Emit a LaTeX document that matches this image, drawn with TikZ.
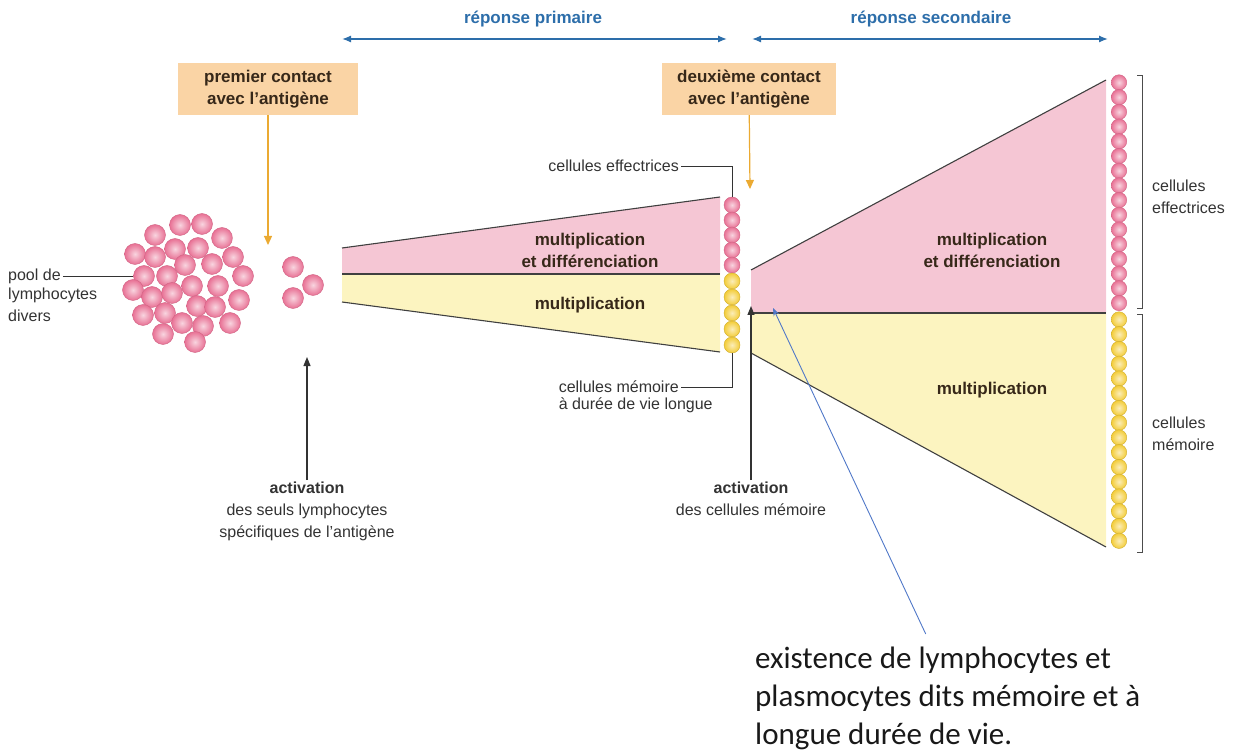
\documentclass[tikz,border=0pt]{standalone}
\usepackage{fontspec}
\setmainfont{Liberation Sans}
\newfontfamily\notefont{Carlito}
\usetikzlibrary{arrows.meta, positioning, calc, shadings}
\definecolor{RepBlue}{RGB}{45,110,170}
\definecolor{BoxOrange}{RGB}{250,212,165}
\definecolor{ArrowOrange}{RGB}{235,170,50}
\definecolor{FunPink}{RGB}{245,198,212}
\definecolor{FunYellow}{RGB}{252,244,192}
\definecolor{CellPink}{RGB}{232,112,148}
\definecolor{CellYellow}{RGB}{243,204,55}
\definecolor{TextBrown}{RGB}{55,40,25}
\definecolor{NoteBlue}{RGB}{80,120,200}

\tikzset{
  lbl/.style={font=\fontsize{16}{22}\selectfont, text=black!80, inner sep=2pt},
  boldlbl/.style={font=\fontsize{17}{22}\selectfont\bfseries, text=TextBrown, align=center},
  contact/.style={fill=BoxOrange, font=\fontsize{17}{22}\selectfont\bfseries, text=TextBrown, align=center, minimum height=52pt},
  pinkcell/.style={circle, inner sep=0pt, minimum size=#1, draw=CellPink!90!black, line width=0.4pt, shading=radial, inner color=CellPink!30!white, outer color=CellPink},
  yellowcell/.style={circle, inner sep=0pt, minimum size=#1, draw=CellYellow!85!black, line width=0.4pt, shading=radial, inner color=CellYellow!35!white, outer color=CellYellow},
  funline/.style={black!75, line width=1.1pt}
}

\begin{document}
\begin{tikzpicture}[x=1pt, y=-1pt]
\useasboundingbox (0,0) rectangle (1245,751);

\coordinate (rp1l) at (342,39);
\coordinate (rp1r) at (727,39);
\coordinate (rp2l) at (752,39);
\coordinate (rp2r) at (1108,39);
\draw[RepBlue, line width=1.3pt, {Latex[length=9pt,width=7pt]}-{Latex[length=9pt,width=7pt]}] (rp1l) -- (rp1r);
\draw[RepBlue, line width=1.3pt, {Latex[length=9pt,width=7pt]}-{Latex[length=9pt,width=7pt]}] (rp2l) -- (rp2r);
\node[boldlbl, text=RepBlue] at (533,19) (rep1) {réponse primaire};
\node[boldlbl, text=RepBlue] at (931,19) (rep2) {réponse secondaire};

\node[contact, minimum width=180pt] at (268,89) (contact1) {premier contact\\avec l’antigène};
\node[contact, minimum width=174pt] at (749,89) (contact2) {deuxième contact\\avec l’antigène};
\coordinate (tip1) at (268,245);
\coordinate (tip2) at (750,189);
\draw[ArrowOrange, line width=1.2pt, -{Triangle[length=9pt,width=8pt]}] (contact1) -- (tip1);
\draw[ArrowOrange, line width=1.2pt, -{Triangle[length=9pt,width=8pt]}] (contact2) -- (tip2);

\fill[FunPink] (342,248) -- (720,197) -- (720,274) -- (342,274) -- cycle;
\fill[FunYellow] (342,274) -- (720,274) -- (720,352) -- (342,302) -- cycle;
\draw[funline] (342,248) -- (720,197);
\draw[funline] (342,274) -- (720,274);
\draw[funline] (342,302) -- (720,352);
\node[boldlbl] at (590,250) (multdiff1) {multiplication\\et différenciation};
\node[boldlbl] at (590,305) (mult1) {multiplication};

\fill[FunPink] (751,270) -- (1106,80) -- (1106,313) -- (751,313) -- cycle;
\fill[FunYellow] (751,313) -- (1106,313) -- (1106,547) -- (751,353) -- cycle;
\draw[funline] (751,270) -- (1106,80);
\draw[funline] (751,313) -- (1106,313);
\draw[funline] (751,353) -- (1106,547);
\node[boldlbl] at (992,250) (multdiff2) {multiplication\\et différenciation};
\node[boldlbl] at (992,390) (mult2) {multiplication};

\foreach \x/\y [count=\i] in {180/225,202/224,155/235,222/238,135/254,155/257,175/249,198/248,233/257,185/265,212/264,144/276,167/276,243/276,192/286,218/286,133/290,152/297,172/293,239/300,197/306,215/307,143/315,165/313,182/323,203/326,230/323,163/334,195/342}
  \node[pinkcell=21pt] (pool\i) at (\x,\y) {};
\foreach \x/\y [count=\i] in {293/267,313/285,293/298}
  \node[pinkcell=21pt] (sel\i) at (\x,\y) {};

\node[lbl, anchor=west] at (6,276) (poollbl) {pool de};
\node[lbl, anchor=north west, align=left] at (poollbl.south west) (poollbl2) {lymphocytes\\divers};
\draw[black!80, line width=0.9pt] (poollbl.east) -- (pool12.west);

\foreach \i in {0,...,4}
  \node[pinkcell=16pt] (pc\i) at (732,205+15*\i) {};
\foreach \i in {0,...,4}
  \node[yellowcell=16pt] (yc\i) at (732,281+16*\i) {};

\node[lbl, anchor=east] at (681,166) (efflbl) {cellules effectrices};
\draw[black!80, line width=0.9pt] (efflbl.east) -| (pc0.north);
\node[lbl, anchor=east] at (681,387) (memlbl) {cellules mémoire};
\node[lbl, anchor=north west] at (memlbl.south west) (memlbl2) {à durée de vie longue};
\draw[black!80, line width=0.9pt] (memlbl.east) -| (yc4.south);

\foreach \i in {0,...,15}
  \node[pinkcell=15.5pt] (pc2\i) at (1119,82.5+14.7*\i) {};
\foreach \i in {0,...,15}
  \node[yellowcell=15.5pt] (yc2\i) at (1119,319.5+14.75*\i) {};

\draw[black!70, line width=0.9pt] (1137,75) -- (1142,75) -- (1142,308) -- (1137,308);
\draw[black!70, line width=0.9pt] (1137,314) -- (1142,314) -- (1142,552) -- (1137,552);
\node[lbl, anchor=west, align=left] at (1150,197) (efflbl2) {cellules\\effectrices};
\node[lbl, anchor=west, align=left] at (1150,434) (memlbl3) {cellules\\mémoire};

\node[lbl, anchor=north, align=center] at (307,480) (act1) {\textbf{activation}\\des seuls lymphocytes\\spécifiques de l’antigène};
\node[lbl, anchor=north, align=center] at (751,480) (act2) {\textbf{activation}\\des cellules mémoire};
\coordinate (acttip1) at (307,357);
\coordinate (acttip2) at (751,306);
\draw[black!80, line width=1.1pt, -{Triangle[length=9pt,width=7pt]}] (act1.north) -- (acttip1);
\draw[black!80, line width=1.1pt, -{Triangle[length=9pt,width=7pt]}] (act1.north -| acttip2) -- (acttip2);

\node[anchor=north west, align=left, font=\notefont\fontsize{31}{38}\selectfont, text=black!90, inner sep=0pt] at (755,647) (note) {existence de lymphocytes et\\plasmocytes dits mémoire et à\\longue durée de vie.};
\coordinate (notetip) at (773,308);
\draw[NoteBlue, line width=0.9pt, -{Stealth[length=8pt,width=6pt]}] ([xshift=-22pt,yshift=13pt]note.north) -- (notetip);
\end{tikzpicture}
\end{document}
